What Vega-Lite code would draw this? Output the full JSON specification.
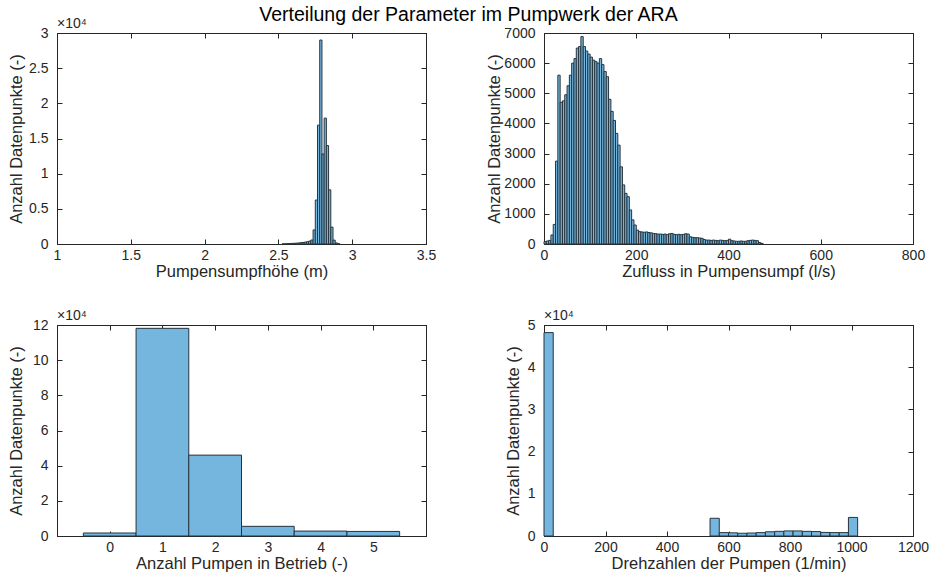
{
  "$schema": "https://vega.github.io/schema/vega-lite/v6.json",
  "padding": {"left": 7, "top": 5, "right": 5, "bottom": 5},
  "background": "white",
  "title": {"text": "Verteilung der Parameter im Pumpwerk der ARA", "fontSize": 19.5, "anchor": "middle", "offset": -9, "color": "#000000"},
  "columns": 2,
  "spacing": {"row": 81, "column": 118},
  "bounds": "flush",
  "align": "all",
  "datasets": {
    "hoehe": [
      {"lo": 2.525, "hi": 2.54, "n": 20}, {"lo": 2.54, "hi": 2.555, "n": 35}, {"lo": 2.555, "hi": 2.57, "n": 50},
      {"lo": 2.57, "hi": 2.585, "n": 65}, {"lo": 2.585, "hi": 2.6, "n": 80}, {"lo": 2.6, "hi": 2.615, "n": 100},
      {"lo": 2.615, "hi": 2.63, "n": 120}, {"lo": 2.63, "hi": 2.645, "n": 150}, {"lo": 2.645, "hi": 2.66, "n": 180},
      {"lo": 2.66, "hi": 2.675, "n": 220}, {"lo": 2.675, "hi": 2.69, "n": 270}, {"lo": 2.69, "hi": 2.705, "n": 330},
      {"lo": 2.705, "hi": 2.72, "n": 420}, {"lo": 2.72, "hi": 2.735, "n": 570}, {"lo": 2.735, "hi": 2.75, "n": 2000},
      {"lo": 2.75, "hi": 2.765, "n": 6250}, {"lo": 2.765, "hi": 2.78, "n": 16900}, {"lo": 2.78, "hi": 2.795, "n": 29000},
      {"lo": 2.795, "hi": 2.81, "n": 12800}, {"lo": 2.81, "hi": 2.825, "n": 17900}, {"lo": 2.825, "hi": 2.84, "n": 14000},
      {"lo": 2.84, "hi": 2.855, "n": 7700}, {"lo": 2.855, "hi": 2.87, "n": 2400}, {"lo": 2.87, "hi": 2.885, "n": 550},
      {"lo": 2.885, "hi": 2.9, "n": 150}, {"lo": 2.9, "hi": 2.915, "n": 50}
    ],
    "zufluss": [
      {"lo": 0, "hi": 5, "n": 80}, {"lo": 5, "hi": 10, "n": 100}, {"lo": 10, "hi": 15, "n": 120}, {"lo": 15, "hi": 20, "n": 300},
      {"lo": 20, "hi": 25, "n": 650}, {"lo": 25, "hi": 30, "n": 2750}, {"lo": 30, "hi": 35, "n": 5600}, {"lo": 35, "hi": 40, "n": 4700},
      {"lo": 40, "hi": 45, "n": 4750}, {"lo": 45, "hi": 50, "n": 4950}, {"lo": 50, "hi": 55, "n": 5250}, {"lo": 55, "hi": 60, "n": 5600},
      {"lo": 60, "hi": 65, "n": 6000}, {"lo": 65, "hi": 70, "n": 6150}, {"lo": 70, "hi": 75, "n": 6500}, {"lo": 75, "hi": 80, "n": 6550},
      {"lo": 80, "hi": 85, "n": 6880}, {"lo": 85, "hi": 90, "n": 6550}, {"lo": 90, "hi": 95, "n": 6400}, {"lo": 95, "hi": 100, "n": 6300},
      {"lo": 100, "hi": 105, "n": 6200}, {"lo": 105, "hi": 110, "n": 6100}, {"lo": 110, "hi": 115, "n": 6050}, {"lo": 115, "hi": 120, "n": 6000},
      {"lo": 120, "hi": 125, "n": 6150}, {"lo": 125, "hi": 130, "n": 5950}, {"lo": 130, "hi": 135, "n": 5720}, {"lo": 135, "hi": 140, "n": 5550},
      {"lo": 140, "hi": 145, "n": 4800}, {"lo": 145, "hi": 150, "n": 4400}, {"lo": 150, "hi": 155, "n": 4100}, {"lo": 155, "hi": 160, "n": 3670},
      {"lo": 160, "hi": 165, "n": 3280}, {"lo": 165, "hi": 170, "n": 2560}, {"lo": 170, "hi": 175, "n": 1960}, {"lo": 175, "hi": 180, "n": 1680},
      {"lo": 180, "hi": 185, "n": 1570}, {"lo": 185, "hi": 190, "n": 1130}, {"lo": 190, "hi": 195, "n": 800}, {"lo": 195, "hi": 200, "n": 630},
      {"lo": 200, "hi": 205, "n": 460}, {"lo": 205, "hi": 210, "n": 410}, {"lo": 210, "hi": 215, "n": 400}, {"lo": 215, "hi": 220, "n": 390},
      {"lo": 220, "hi": 225, "n": 400}, {"lo": 225, "hi": 230, "n": 380}, {"lo": 230, "hi": 235, "n": 370}, {"lo": 235, "hi": 240, "n": 350},
      {"lo": 240, "hi": 245, "n": 340}, {"lo": 245, "hi": 250, "n": 330}, {"lo": 250, "hi": 255, "n": 330}, {"lo": 255, "hi": 260, "n": 320},
      {"lo": 260, "hi": 265, "n": 330}, {"lo": 265, "hi": 270, "n": 310}, {"lo": 270, "hi": 275, "n": 340}, {"lo": 275, "hi": 280, "n": 350},
      {"lo": 280, "hi": 285, "n": 320}, {"lo": 285, "hi": 290, "n": 310}, {"lo": 290, "hi": 295, "n": 320}, {"lo": 295, "hi": 300, "n": 310},
      {"lo": 300, "hi": 305, "n": 320}, {"lo": 305, "hi": 310, "n": 340}, {"lo": 310, "hi": 315, "n": 330}, {"lo": 315, "hi": 320, "n": 240},
      {"lo": 320, "hi": 325, "n": 220}, {"lo": 325, "hi": 330, "n": 210}, {"lo": 330, "hi": 335, "n": 210}, {"lo": 335, "hi": 340, "n": 200},
      {"lo": 340, "hi": 345, "n": 190}, {"lo": 345, "hi": 350, "n": 150}, {"lo": 350, "hi": 355, "n": 130}, {"lo": 355, "hi": 360, "n": 130},
      {"lo": 360, "hi": 365, "n": 120}, {"lo": 365, "hi": 370, "n": 130}, {"lo": 370, "hi": 375, "n": 120}, {"lo": 375, "hi": 380, "n": 110},
      {"lo": 380, "hi": 385, "n": 130}, {"lo": 385, "hi": 390, "n": 120}, {"lo": 390, "hi": 395, "n": 110}, {"lo": 395, "hi": 400, "n": 120},
      {"lo": 400, "hi": 405, "n": 160}, {"lo": 405, "hi": 410, "n": 110}, {"lo": 410, "hi": 415, "n": 100}, {"lo": 415, "hi": 420, "n": 90},
      {"lo": 420, "hi": 425, "n": 90}, {"lo": 425, "hi": 430, "n": 100}, {"lo": 430, "hi": 435, "n": 90}, {"lo": 435, "hi": 440, "n": 90},
      {"lo": 440, "hi": 445, "n": 110}, {"lo": 445, "hi": 450, "n": 120}, {"lo": 450, "hi": 455, "n": 130}, {"lo": 455, "hi": 460, "n": 120},
      {"lo": 460, "hi": 465, "n": 110}, {"lo": 465, "hi": 470, "n": 50}, {"lo": 470, "hi": 475, "n": 20}
    ],
    "pumpen": [
      {"lo": -0.5, "hi": 0.5, "n": 1700}, {"lo": 0.5, "hi": 1.5, "n": 118100}, {"lo": 1.5, "hi": 2.5, "n": 46000},
      {"lo": 2.5, "hi": 3.5, "n": 5500}, {"lo": 3.5, "hi": 4.5, "n": 2800}, {"lo": 4.5, "hi": 5.5, "n": 2600}
    ],
    "drehzahl": [
      {"lo": 0, "hi": 30, "n": 48200}, {"lo": 540, "hi": 570, "n": 4200}, {"lo": 570, "hi": 600, "n": 800},
      {"lo": 600, "hi": 630, "n": 750}, {"lo": 630, "hi": 660, "n": 650}, {"lo": 660, "hi": 690, "n": 700},
      {"lo": 690, "hi": 720, "n": 800}, {"lo": 720, "hi": 750, "n": 1000}, {"lo": 750, "hi": 780, "n": 1100},
      {"lo": 780, "hi": 810, "n": 1200}, {"lo": 810, "hi": 840, "n": 1200}, {"lo": 840, "hi": 870, "n": 1100},
      {"lo": 870, "hi": 900, "n": 1050}, {"lo": 900, "hi": 930, "n": 850}, {"lo": 930, "hi": 960, "n": 800},
      {"lo": 960, "hi": 990, "n": 800}, {"lo": 990, "hi": 1020, "n": 4400}
    ]
  },
  "concat": [
    {
      "width": 369, "height": 211,
      "title": {"text": "×10⁴", "fontSize": 14, "anchor": "start", "frame": "group", "offset": -5, "color": "#262626"},
      "data": {"name": "hoehe"},
      "layer": [
        {
          "mark": {"type": "bar", "fill": "#75B6DE", "stroke": "#26343d", "strokeWidth": 1},
          "encoding": {
            "x": {"field": "lo", "type": "quantitative", "scale": {"domain": [1, 3.5], "nice": false, "zero": false}, "axis": {"title": "Pumpensumpfhöhe (m)", "values": [1, 1.5, 2, 2.5, 3, 3.5], "format": "~g"}},
            "x2": {"field": "hi"},
            "y": {"field": "n", "type": "quantitative", "stack": null, "scale": {"domain": [0, 30000], "nice": false}, "axis": {"title": "Anzahl Datenpunkte (-)", "titlePadding": 4, "values": [0, 5000, 10000, 15000, 20000, 25000, 30000], "labelExpr": "datum.value / 10000"}},
            "y2": {"datum": 0}
          }
        },
        {
          "mark": {"type": "bar", "opacity": 0},
          "encoding": {
            "x": {"field": "lo", "type": "quantitative", "axis": {"orient": "top", "labels": false, "title": null, "values": [1, 1.5, 2, 2.5, 3, 3.5]}},
            "x2": {"field": "hi"},
            "y": {"field": "n", "type": "quantitative", "stack": null, "axis": {"orient": "right", "labels": false, "title": null, "values": [0, 5000, 10000, 15000, 20000, 25000, 30000]}},
            "y2": {"datum": 0}
          }
        }
      ],
      "resolve": {"axis": {"x": "independent", "y": "independent"}}
    },
    {
      "width": 369, "height": 211,
      "data": {"name": "zufluss"},
      "layer": [
        {
          "mark": {"type": "bar", "fill": "#75B6DE", "stroke": "#26343d", "strokeWidth": 1},
          "encoding": {
            "x": {"field": "lo", "type": "quantitative", "scale": {"domain": [0, 800], "nice": false}, "axis": {"title": "Zufluss in Pumpensumpf (l/s)", "values": [0, 200, 400, 600, 800], "format": "d"}},
            "x2": {"field": "hi"},
            "y": {"field": "n", "type": "quantitative", "stack": null, "scale": {"domain": [0, 7000], "nice": false}, "axis": {"title": "Anzahl Datenpunkte (-)", "titlePadding": 1, "values": [0, 1000, 2000, 3000, 4000, 5000, 6000, 7000], "format": "d"}},
            "y2": {"datum": 0}
          }
        },
        {
          "mark": {"type": "bar", "opacity": 0},
          "encoding": {
            "x": {"field": "lo", "type": "quantitative", "axis": {"orient": "top", "labels": false, "title": null, "values": [0, 200, 400, 600, 800]}},
            "x2": {"field": "hi"},
            "y": {"field": "n", "type": "quantitative", "stack": null, "axis": {"orient": "right", "labels": false, "title": null, "values": [0, 1000, 2000, 3000, 4000, 5000, 6000, 7000]}},
            "y2": {"datum": 0}
          }
        }
      ],
      "resolve": {"axis": {"x": "independent", "y": "independent"}}
    },
    {
      "width": 369, "height": 211,
      "title": {"text": "×10⁴", "fontSize": 14, "anchor": "start", "frame": "group", "offset": -5, "color": "#262626"},
      "data": {"name": "pumpen"},
      "layer": [
        {
          "mark": {"type": "bar", "fill": "#75B6DE", "stroke": "#26343d", "strokeWidth": 1},
          "encoding": {
            "x": {"field": "lo", "type": "quantitative", "scale": {"domain": [-1, 6], "nice": false, "zero": false}, "axis": {"title": "Anzahl Pumpen in Betrieb (-)", "values": [0, 1, 2, 3, 4, 5], "format": "d"}},
            "x2": {"field": "hi"},
            "y": {"field": "n", "type": "quantitative", "stack": null, "scale": {"domain": [0, 120000], "nice": false}, "axis": {"title": "Anzahl Datenpunkte (-)", "titlePadding": 8, "values": [0, 20000, 40000, 60000, 80000, 100000, 120000], "labelExpr": "datum.value / 10000"}},
            "y2": {"datum": 0}
          }
        },
        {
          "mark": {"type": "bar", "opacity": 0},
          "encoding": {
            "x": {"field": "lo", "type": "quantitative", "axis": {"orient": "top", "labels": false, "title": null, "values": [0, 1, 2, 3, 4, 5]}},
            "x2": {"field": "hi"},
            "y": {"field": "n", "type": "quantitative", "stack": null, "axis": {"orient": "right", "labels": false, "title": null, "values": [0, 20000, 40000, 60000, 80000, 100000, 120000]}},
            "y2": {"datum": 0}
          }
        }
      ],
      "resolve": {"axis": {"x": "independent", "y": "independent"}}
    },
    {
      "width": 369, "height": 211,
      "title": {"text": "×10⁴", "fontSize": 14, "anchor": "start", "frame": "group", "offset": -5, "color": "#262626"},
      "data": {"name": "drehzahl"},
      "layer": [
        {
          "mark": {"type": "bar", "fill": "#75B6DE", "stroke": "#26343d", "strokeWidth": 1},
          "encoding": {
            "x": {"field": "lo", "type": "quantitative", "scale": {"domain": [0, 1200], "nice": false}, "axis": {"title": "Drehzahlen der Pumpen (1/min)", "values": [0, 200, 400, 600, 800, 1000, 1200], "format": "d"}},
            "x2": {"field": "hi"},
            "y": {"field": "n", "type": "quantitative", "stack": null, "scale": {"domain": [0, 50000], "nice": false}, "axis": {"title": "Anzahl Datenpunkte (-)", "titlePadding": 6, "values": [0, 10000, 20000, 30000, 40000, 50000], "labelExpr": "datum.value / 10000"}},
            "y2": {"datum": 0}
          }
        },
        {
          "mark": {"type": "bar", "opacity": 0},
          "encoding": {
            "x": {"field": "lo", "type": "quantitative", "axis": {"orient": "top", "labels": false, "title": null, "values": [0, 200, 400, 600, 800, 1000, 1200]}},
            "x2": {"field": "hi"},
            "y": {"field": "n", "type": "quantitative", "stack": null, "axis": {"orient": "right", "labels": false, "title": null, "values": [0, 10000, 20000, 30000, 40000, 50000]}},
            "y2": {"datum": 0}
          }
        }
      ],
      "resolve": {"axis": {"x": "independent", "y": "independent"}}
    }
  ],
  "config": {
    "font": "Liberation Sans",
    "view": {"stroke": "#262626", "strokeWidth": 1},
    "axis": {"labelFontSize": 14, "titleFontSize": 16.5, "titleFontWeight": "normal", "labelColor": "#262626", "titleColor": "#262626", "tickColor": "#262626", "domainColor": "#262626", "tickSize": -5, "grid": false, "labelFlush": false, "labelOverlap": false, "labelFont": "Liberation Sans", "titleFont": "Liberation Sans"},
    "axisX": {"labelPadding": 9, "titlePadding": 1},
    "axisY": {"labelPadding": 14, "titlePadding": 4},
    "title": {"font": "Liberation Sans", "fontWeight": "normal"}
  }
}
